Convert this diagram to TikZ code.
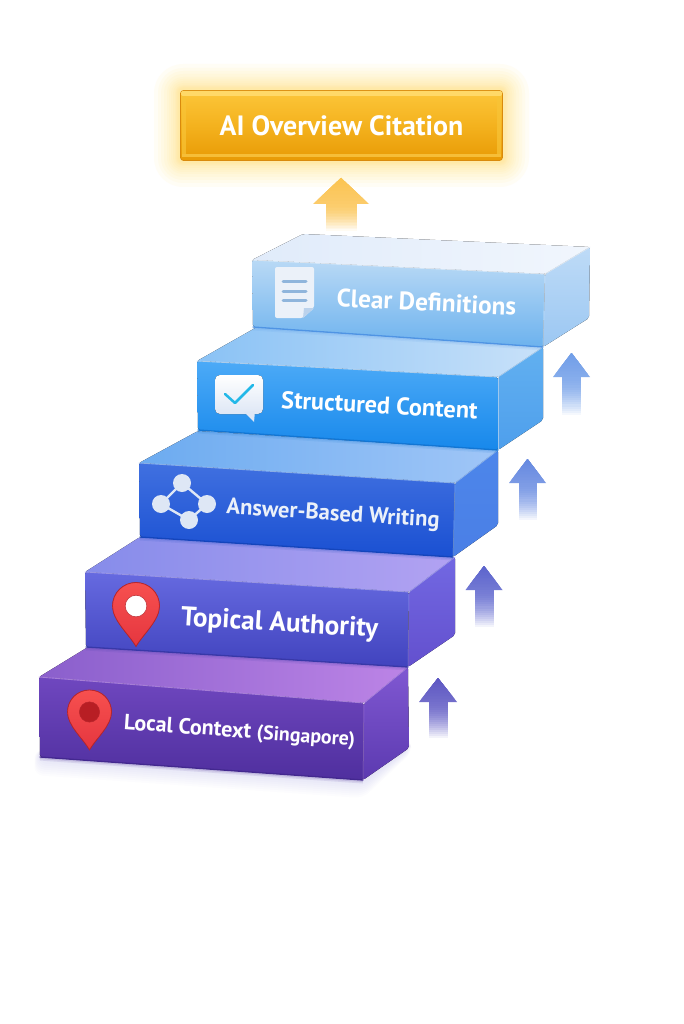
\documentclass[tikz,border=0pt]{standalone}
\usepackage{fontspec}
\setmainfont{PT Sans}
\definecolor{goldA}{HTML}{FBC350}
\definecolor{arrowA}{HTML}{6F9DE8}
\definecolor{arrowB}{HTML}{6488E0}
\definecolor{arrowC}{HTML}{5A62CC}
\definecolor{arrowD}{HTML}{5A54C2}
\definecolor{goldBoxT}{HTML}{FCC63A}
\definecolor{goldBoxM}{HTML}{F4B21E}
\definecolor{goldBoxB}{HTML}{E89A05}
\definecolor{goldBevel}{HTML}{FFD968}
\definecolor{goldLow}{HTML}{F6BE38}
\definecolor{goldSide}{HTML}{F8C437}
\definecolor{goldEdge}{HTML}{D98A0C}
\definecolor{glowTint}{HTML}{FFD84A}
\definecolor{iconFold}{HTML}{BBD2EC}
\definecolor{docLine}{HTML}{8FB5DC}
\definecolor{checkBlue}{HTML}{22B8E8}
\definecolor{pinEdge}{HTML}{B9262C}
\definecolor{pinDeep}{HTML}{B81E24}
\definecolor{shadowTint}{HTML}{6A50D8}
\definecolor{pinTop}{HTML}{F7504F}
\definecolor{pinBot}{HTML}{E5363F}
\definecolor{iconLight}{HTML}{DEE7F5}
\tikzset{
  x=1pt,y=-1pt,
  blockedge/.style={line cap=round,line width=0.9pt},
  steplabel/.style={text=white,font=\bfseries,inner sep=0pt},
  pinshape/.style={draw=#1,line width=0.8pt,top color=pinTop,bottom color=pinBot},
  iconfill/.style={fill=iconLight},
}
% ---- block: 1 id; 2 TL; 3 TR; 4 BR; 5 BL; 6 back-left; 7 back-right; 8 back-right-bottom
\newcommand\StepBlock[8]{%
  \fill[rounded corners=2pt,left color=#1topL,right color=#1topR] (#6) -- (#7) -- (#3) -- (#2) -- cycle;
  \fill[rounded corners=2pt,top color=#1rightT,bottom color=#1rightB] (#3) -- (#7) -- (#8) -- (#4) -- cycle;
  \draw[#1low,opacity=.10,line width=7pt] (#5) -- (#4);
  \draw[#1low,opacity=.14,line width=4pt] (#5) -- (#4);
  \fill[rounded corners=2pt,top color=#1frontT,bottom color=#1frontB] (#2) -- (#3) -- (#4) -- (#5) -- cycle;
  \draw[blockedge,#1hi,opacity=.8] (#2) -- (#3);
  \draw[blockedge,#1hi,opacity=.8] (#3) -- (#7);
  \draw[blockedge,#1hi,line width=.5pt,opacity=.7] (#3) -- (#4);
  \draw[blockedge,#1low,line width=1.3pt] (#5) -- (#4);
}
\newcommand\DefStep[9]{%
  \definecolor{#1topL}{HTML}{#2}\definecolor{#1topR}{HTML}{#3}%
  \definecolor{#1rightT}{HTML}{#4}\definecolor{#1rightB}{HTML}{#5}%
  \definecolor{#1frontT}{HTML}{#6}\definecolor{#1frontB}{HTML}{#7}%
  \definecolor{#1hi}{HTML}{#8}\definecolor{#1low}{HTML}{#9}}
\DefStep{sa}{8A5FCC}{BC84E6}{8058D2}{5C3AB0}{6F47BF}{4F2F9E}{B98EE8}{43288F}
\DefStep{sb}{868CEA}{B2A2F2}{7268E2}{6350CE}{666AE0}{4143BE}{A9A4F2}{3838A8}
\DefStep{sc}{6CABF0}{A0C6F7}{4D86EA}{4A7FE6}{4070E0}{1A50D2}{9CC2F6}{1445BC}
\DefStep{sd}{8AC2F5}{C8E1F9}{62B0F0}{4E9FEC}{4CAAF7}{1788EB}{C4DFF9}{1276D4}
\DefStep{se}{E0EBFA}{F1F6FD}{BEDBF7}{9BC7F2}{B9D9F5}{6CB2EE}{EDF4FC}{4F94E4}
% 1 colour, 2 tip x, 3 tip y, 4 head half width, 5 head base y, 6 shaft half width, 7 bottom y
\newcommand\UpArrow[7]{%
  \foreach \i in {8,7,...,1}{%
    \pgfmathsetmacro\ta{\i/8}%
    \pgfmathsetmacro\ya{#3+\ta*(#5-#3)}%
    \pgfmathsetmacro\wa{\ta*#4}%
    \pgfmathsetmacro\pc{100-14*\ta}%
    \fill[#1!\pc!white] (#2,#3) -- (#2+\wa,\ya) -- (#2-\wa,\ya) -- cycle;}%
  \foreach \j in {0,...,17}{%
    \pgfmathsetmacro\ta{\j/18}%
    \pgfmathsetmacro\ya{#5+\ta*(#7-#5)}\pgfmathsetmacro\yb{min(#7,#5+(\j+1)/18*(#7-#5)+.6)}%
    \pgfmathsetmacro\pc{84*(1-\ta^1.6)}%
    \fill[#1!\pc!white] (#2-#6,\ya) rectangle (#2+#6,\yb);}}
\newcommand\PinIcon[5]{% 1 cx, 2 cy, 3 r, 4 inner colour, 5 edge colour
  \begin{scope}[shift={(#1,#2)},x=#3pt,y=-#3pt]
    \fill[pinshape=#5] (0,1.72) .. controls (-.3,1.2) and (-1,.62) .. (-1,0)
      .. controls (-1,-.56) and (-.55,-1) .. (0,-1)
      .. controls (.55,-1) and (1,-.56) .. (1,0)
      .. controls (1,.62) and (.3,1.2) .. (0,1.72) -- cycle;
    \fill[#4,draw=#5,line width=.5pt] (0,0) circle (.46*#3pt);
  \end{scope}}
\begin{document}
\begin{tikzpicture}
\useasboundingbox (0,0) rectangle (683,1024);
\fill[white] (0,0) rectangle (683,1024);

% ---- shadow under lowest block
\foreach \g in {2,4,...,18}
  \fill[rounded corners=8pt,shadowTint,opacity=.014] (40-\g*.3,750) -- (363,772) -- (409,740) -- (409+\g*.2,748+\g*0.2) -- (363,780+\g) -- (40-\g*.3,757+\g) -- cycle;

% ---- blocks
\StepBlock{sa}{39,677}{364,703}{363,780}{40,757}{88,647}{408,667}{409,748}
\StepBlock{sb}{85,572}{409,592}{408,667}{86,647}{140,537}{455,557}{455,635}
\StepBlock{sc}{139,463}{455,483}{453,557}{140,537}{198,431}{498,450}{498,525}
\StepBlock{sd}{197,361}{498,377}{498,450}{198,430}{257,327}{543,347}{543,420}
\StepBlock{se}{252,260}{545,274}{543,347}{253,327}{303,234}{590,247}{589,318}

% ---- arrows
\UpArrow{goldA}{341}{178}{28}{204}{15.5}{231}
\UpArrow{arrowA}{571.5}{353}{18.5}{377}{9.5}{415}
\UpArrow{arrowB}{527.5}{459}{18.5}{483}{9}{520}
\UpArrow{arrowC}{484}{566}{18.5}{590}{9.5}{627}
\UpArrow{arrowD}{438}{678}{19}{702}{9.5}{738}

% ---- top box with glow
\foreach \g in {26,22,19,16,13,11,9,7,5,4,3,2}
  \fill[rounded corners=\g pt+3pt,glowTint,opacity=.05] (180-\g,90-\g) rectangle (503+\g,161+\g);
\node[draw=goldEdge,line width=.7pt,rounded corners=3pt,minimum width=322pt,minimum height=70pt,inner sep=0pt,
  top color=goldBoxT,bottom color=goldBoxB,middle color=goldBoxM,text=white,font=\fontsize{27.9}{28}\selectfont\bfseries] (citation) at (341.5,125.5) {AI Overview Citation};
\fill[goldBevel,rounded corners=2pt] (181,91) -- (502,91) -- (502,96) -- (181,96) -- cycle;
\fill[goldLow] (182,154) rectangle (501,157);
\fill[goldSide,opacity=.7] (182,96) rectangle (186,154);
\fill[goldSide,opacity=.7] (497,96) rectangle (501,154);

% ---- labels
\node[steplabel,rotate=-2.8,font=\fontsize{25.3}{24}\selectfont\bfseries] (clear) at (426.5,302) {Clear Definitions};
\node[steplabel,rotate=-3.2,font=\fontsize{24.3}{24}\selectfont\bfseries] (structured) at (379.5,405) {Structured Content};
\node[steplabel,rotate=-3.6,font=\fontsize{22.6}{24}\selectfont\bfseries,text=iconLight!60!white] (answer) at (333,515) {Answer-Based Writing};
\node[steplabel,rotate=-3.4,font=\fontsize{27.2}{24}\selectfont\bfseries] (topical) at (279.5,624.5) {Topical Authority};
\node[steplabel,rotate=-4.1,font=\fontsize{22}{24}\selectfont\bfseries] (local) at (239.5,732) {Local Context {\fontsize{19.9}{24}\selectfont (Singapore)}};

% ---- document icon
\fill[iconLight!60!white,rounded corners=2pt] (275,267) -- (314,267) -- (314,308) -- (303,318) -- (275,318) -- cycle;
\fill[iconFold] (303,318) -- (304,308) -- (314,308) -- cycle;
\draw[line width=3pt,docLine,line cap=round] (283,281) -- (306,281) (283,291) -- (306,291) (283,300) -- (306,300);

% ---- chat icon
\fill[top color=white,bottom color=iconLight,rounded corners=5pt] (215,375) rectangle (263,414);
\fill[iconLight] (244,412) -- (254,422) -- (255,411) -- cycle;
\draw[line width=2.5pt,checkBlue,line cap=round,line join=round] (225,394) -- (235,403) -- (253,385);

% ---- network icon
\draw[iconLight,line width=2.4pt] (182,483) -- (161,504) -- (189,520) -- (207,504) -- cycle;
\node[circle,iconfill,minimum size=18pt,inner sep=0pt] (nTop) at (182,483) {};
\node[circle,iconfill,minimum size=18pt,inner sep=0pt] (nLeft) at (161,504) {};
\node[circle,iconfill,minimum size=18pt,inner sep=0pt] (nRight) at (207,504) {};
\node[circle,iconfill,minimum size=18pt,inner sep=0pt] (nBottom) at (189,520) {};

% ---- pins
\PinIcon{136}{606}{23.5}{white}{pinEdge}
\PinIcon{89.5}{712}{22}{pinDeep}{pinEdge}
\end{tikzpicture}
\end{document}
